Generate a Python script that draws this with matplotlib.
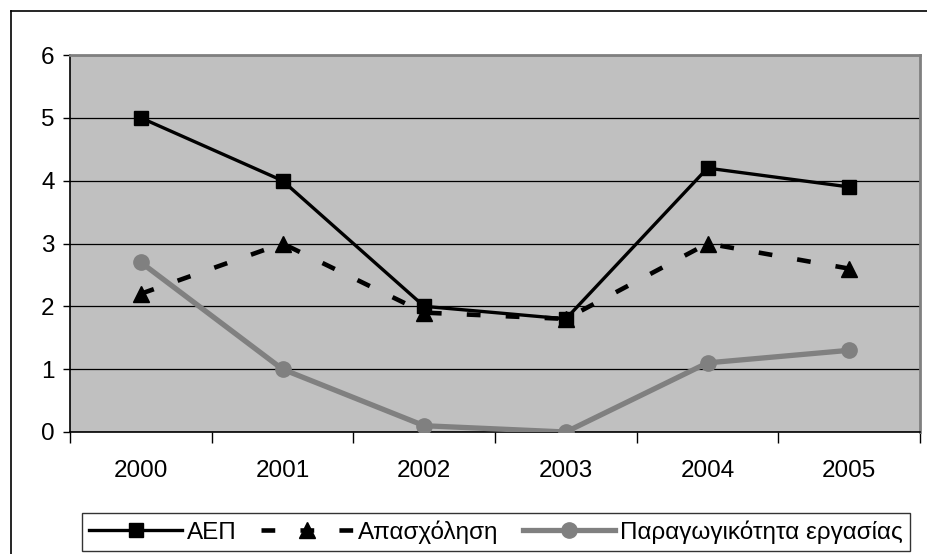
import numpy as np
import matplotlib
matplotlib.use("Agg")
import matplotlib.pyplot as plt
from matplotlib.lines import Line2D

plt.rcParams['font.family'] = ['Liberation Sans', 'DejaVu Sans']

# data
years = ["2000", "2001", "2002", "2003", "2004", "2005"]
aep = [5.0, 4.0, 2.0, 1.8, 4.2, 3.9]
apasxolisi = [2.2, 3.0, 1.9, 1.8, 3.0, 2.6]
paragogikotita = [2.7, 1.0, 0.1, 0.0, 1.1, 1.3]

W, H = 927, 554
fs = 17.5
dash = (3.0, 5.5)
fig = plt.figure(figsize=(W / 100, H / 100), dpi=100)
ax = fig.add_axes([70 / W, 1 - 432 / H, (920 - 70) / W, (432 - 55) / H])
ax.set_facecolor("#C0C0C0")

x = np.arange(len(years))

ax.plot(x, paragogikotita, color="#808080", lw=3.8, marker="o", ms=11,
        solid_capstyle="round", zorder=3)
ax.plot(x, apasxolisi, color="black", lw=3.3, dashes=dash, marker="^",
        ms=11, zorder=4)
ax.plot(x, aep, color="black", lw=2.4, marker="s", ms=9.5, zorder=5)

ax.set_xlim(-0.5, 5.5)
ax.set_ylim(0, 6)
ax.set_yticks(range(7))
ax.yaxis.grid(True, color="black", lw=0.9)
ax.set_axisbelow(True)

ax.set_xticks(x)
ax.set_xticklabels(years)
ax.set_xticks(np.arange(-0.5, 6, 1), minor=True)
ax.tick_params(axis="x", which="major", length=0, pad=20, labelsize=fs)
ax.tick_params(axis="x", which="minor", length=8, width=1, direction="out")
ax.tick_params(axis="y", length=5, width=1, direction="out", pad=6, labelsize=fs)

for side in ["top", "right"]:
    ax.spines[side].set_color("#808080")
    ax.spines[side].set_linewidth(2)
for side in ["left", "bottom"]:
    ax.spines[side].set_color("black")
    ax.spines[side].set_linewidth(1.2)

# outer border of chart
fig.add_artist(Line2D([10.5 / W, 10.5 / W], [0, 1 - 11 / H], color="black", lw=1.2))
fig.add_artist(Line2D([10.5 / W, 1], [1 - 11 / H, 1 - 11 / H], color="black", lw=1.2))

handles = [
    Line2D([], [], color="black", lw=2.4, marker="s", ms=9.5),
    Line2D([], [], color="black", lw=3.3, dashes=dash, marker="^", ms=11),
    Line2D([], [], color="#808080", lw=3.8, marker="o", ms=11),
]
labels = ["ΑΕΠ", "Απασχόληση", "Παραγωγικότητα εργασίας"]
leg = fig.legend(handles, labels, loc="center", ncol=3,
                 bbox_to_anchor=(496 / W, 1 - 532 / H), fontsize=fs,
                 frameon=True, fancybox=False, handlelength=3.8,
                 handletextpad=0.2, columnspacing=1.0, borderpad=0.3,
                 borderaxespad=0)
leg.get_frame().set_edgecolor("black")
leg.get_frame().set_linewidth(1.0)

fig.savefig("out.png", dpi=100)
